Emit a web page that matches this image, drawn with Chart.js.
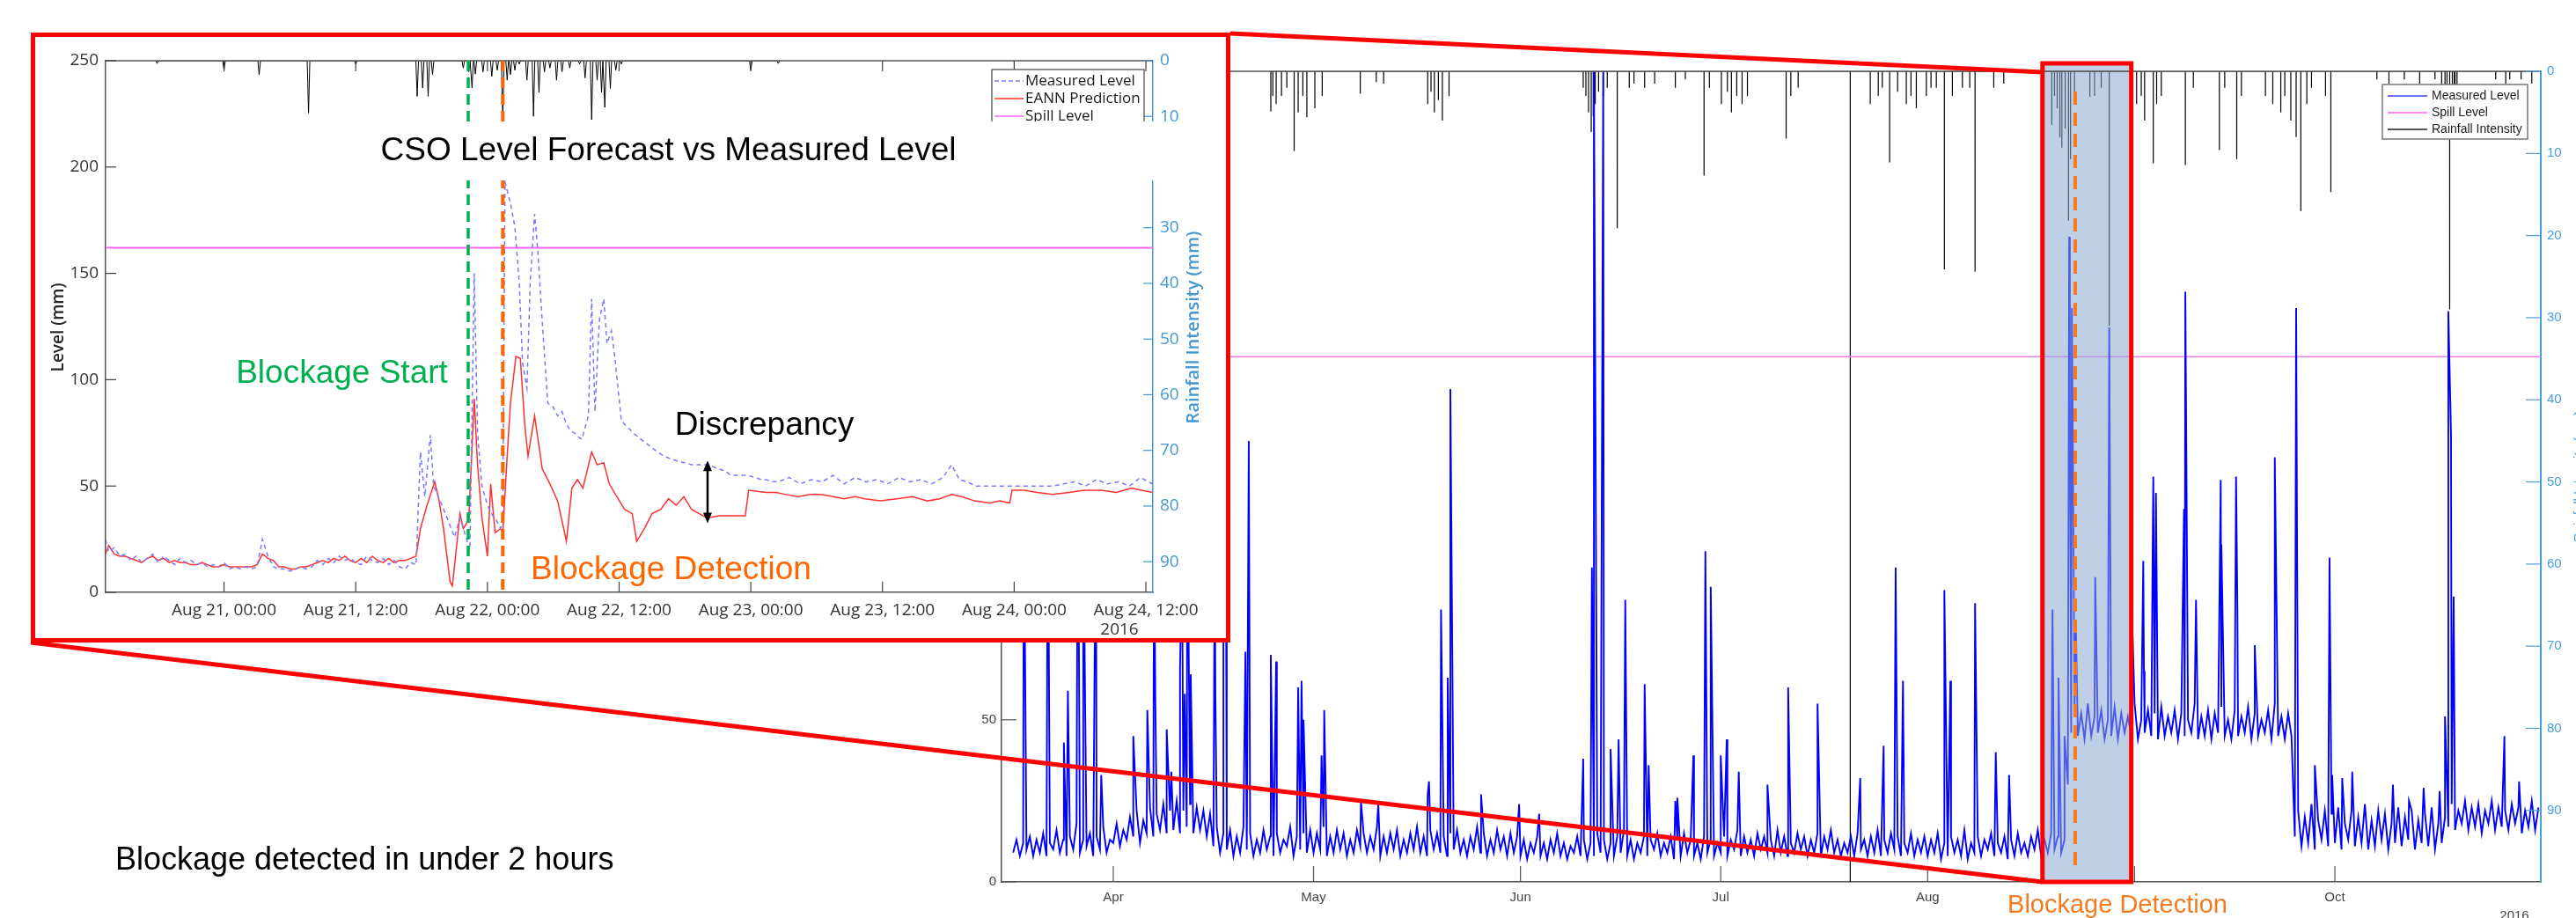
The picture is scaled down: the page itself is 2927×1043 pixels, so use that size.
<!DOCTYPE html>
<html>
<head>
<meta charset="utf-8">
<script src="https://cdn.jsdelivr.net/npm/chart.js@4.4.0/dist/chart.umd.min.js"></script>
<style>
html,body{margin:0;padding:0;background:#fff;overflow:hidden;width:2927px;height:1043px;}
#mainWrap{position:absolute;left:0;top:0;width:2927px;height:1043px;}
#insetBox{position:absolute;left:35px;top:37px;width:1353px;height:683px;border:5px solid #ff0000;background:#fff;}
canvas{display:block;}
</style>
</head>
<body>
<div id="mainWrap"><canvas id="mainCanvas" width="2927" height="1043" style="width:2927px;height:1043px"></canvas></div>
<div id="insetBox"><canvas id="insetCanvas" width="1353" height="683" style="width:1353px;height:683px"></canvas></div>
<script>
// ================= DATA (main chart: day of year 2016, Jan 1 = 1) =================
const monthStartDays = [92, 122, 153, 183, 214, 245, 275];
const monthLabels = ['Apr', 'May', 'Jun', 'Jul', 'Aug', 'Sep', 'Oct'];
const levelTickValues = [0, 50, 100, 150, 200, 250];
const rainTickValues = [0, 10, 20, 30, 40, 50, 60, 70, 80, 90];
const spillLevel = 162;

// measured level, one value every 12 h, start day given
const levelMar17to31 = [9,13,8,12,10,14,8,13,9,15,8,12,10,16,9,13,8,14,10,18,9,13,11,15,8,14,10,17,9,13];
const levelApr1to15 = [12,18,11,16,13,20,14,22,12,19,15,23,14,21,16,24,15,22,16,25,15,22,17,24,15,23,16,22,14,21];
const levelApr16to30 = [11,17,9,15,10,16,8,14,9,17,10,15,8,13,9,16,10,14,8,15,9,13,11,17,8,14,10,15,9,16];
const levelMay = [9,15,10,17,8,14,9,16,10,15,8,13,9,16,11,15,9,14,10,17,8,14,9,15,10,16,8,13,9,15,10,17,9,14,8,16,10,15,9,14,8,15,10,16,9,13,8,14,10,17,9,15,8,13,9,16,10,14,8,15,9,14];
const levelJun = [8,13,7,12,9,14,8,12,7,13,9,15,8,12,7,11,9,14,8,13,7,12,8,15,9,13,7,12,8,14,9,16,8,13,7,12,9,14,8,13,10,15,8,12,9,14,7,13,8,15,9,13,8,12,7,14,9,13,8,12];
const levelJul = [9,14,8,13,10,16,8,14,9,13,8,15,10,14,9,13,8,16,9,14,8,12,9,15,10,14,8,13,9,15,8,14,10,16,9,13,8,12,9,14,8,15,10,13,8,14,9,16,8,13,9,15,10,14,8,12,9,15,8,13,9,14];
const levelAug1to21 = [8,13,9,15,7,12,8,14,9,13,8,16,7,12,9,14,8,13,10,15,8,12,9,14,7,13,8,15,9,12,8,14,10,16,8,13,9,15,10,14,9,13];
const levelAug22toSep25 = [30,46,54,45,52,44,55,45,51,46,53,44,50,45,54,44,52,46,51,45,55,44,50,46,53,45,52,44,54,45,51,46,53,44,52,45,50,46,55,44,51,45,53,44,52,46,54,45,50,44,53,45,51,46,54,44,52,45,50,46,53,44,55,45,51,44,52,45];
const levelSep26toOct18 = [14,22,11,20,12,24,10,19,13,22,11,21,12,23,10,18,13,22,11,20,12,24,10,19,11,22,13,21,10,18,12,23,11,20,13,22,10,19,12,21,11,23,10,18,12,20];
const levelOct19to31 = [17,24,16,22,18,25,16,23,17,24,15,22,18,25,16,23,17,22,16,24,18,23,15,22,17,25,16,23];
const levelSegments = [
  {start: 77, values: levelMar17to31}, {start: 92, values: levelApr1to15}, {start: 107, values: levelApr16to30},
  {start: 122, values: levelMay}, {start: 153, values: levelJun}, {start: 183, values: levelJul},
  {start: 214, values: levelAug1to21}, {start: 235, values: levelAug22toSep25},
  {start: 269, values: levelSep26toOct18}, {start: 292, values: levelOct19to31}
];
// measured level spikes [day, mm]
const levelSpikes = [[78.6,120],[82.2,130],[84.6,43],[85.2,59],[86.7,140],[87.5,115],[89.4,125],[90.2,33],[95.0,45],[97.1,53],[98.1,110],[98.3,56],[100.0,47],[100.7,34],[102.0,66],[102.3,100],[102.7,58],[103.1,120],[103.6,64],[107.2,105],[107.3,57],[108.5,115],[108.9,90],[111.8,71],[112.3,136],[115.6,70],[116.4,68],[119.7,60],[120.2,62],[120.5,50],[123.2,39],[123.6,53],[129.1,25],[131.7,24],[139.1,27],[139.3,31],[141.1,84],[142.1,63],[142.5,152],[147.1,27],[152.8,24],[155.8,21],[162.4,38],[163.7,97],[164.0,250],[164.2,160],[165.4,250],[166.5,41],[167.7,44],[168.7,87],[171.6,61],[172.2,36],[176.2,25],[176.5,26],[178.9,39],[180.7,102],[181.5,91],[183.0,39],[183.9,44],[185.7,34],[190.0,30],[193.1,60],[197.5,55],[203.9,32],[207.4,42],[209.2,97],[210.3,62],[216.5,90],[217.4,62],[221.1,86],[224.2,40],[226.2,33],[232.7,84],[233.6,63],[234.5,45],[235.2,199],[235.3,150],[235.6,177],[235.8,120],[236.2,80],[239.1,94],[241.2,171],[244.7,76],[246.3,99],[246.4,65],[247.7,100],[247.8,125],[248.2,120],[252.4,115],[252.6,182],[254.2,87],[257.9,124],[258.0,104],[260.2,125],[260.4,84],[263.0,73],[266.0,131],[269.2,177],[272.0,36],[274.2,100],[274.6,33],[276.1,32],[277.6,34],[283.7,30],[286.1,25],[288.3,29],[290.7,28],[291.5,51],[292.0,176],[292.4,138],[292.8,88],[300.4,45],[302.6,31]];
// rainfall intensity [day, mm]
const mainRain = [[115.6,4.9],[115.9,3],[116.4,4],[117.2,3],[118.0,2],[119.1,9.7],[119.7,5],[120.4,3],[121.0,5.6],[122.2,4.5],[123.3,3],[129.0,2.7],[131.4,1.3],[132.5,1.5],[139.1,4],[139.6,2.5],[140.1,5],[140.7,3.5],[141.3,6],[142.3,3],[162.4,2],[162.8,3],[163.2,5],[163.6,7.4],[163.9,5.5],[164.2,4],[164.7,2.5],[165.4,3],[166.0,2],[167.5,19.1],[169.3,2],[170.0,1.5],[171.6,2],[173.1,1.5],[176.2,2],[177.7,1],[180.5,12.7],[181.3,2],[183.1,4],[184.0,2.5],[184.6,5],[185.4,3],[186.2,4],[187.0,3],[192.8,8.2],[193.5,3],[194.6,2],[202.4,99],[205.4,4],[206.6,3],[207.2,2],[208.3,11.1],[209.5,2.5],[210.8,4],[211.5,3],[212.3,4.5],[213.8,3],[214.5,2],[215.3,2],[216.5,24.1],[217.7,3],[219.2,2],[220.3,2],[221.1,24.4],[223.9,2],[225.4,1.5],[232.6,6.5],[233.0,3],[233.4,4.5],[233.8,8],[234.1,9.3],[234.6,7],[235.1,18.2],[235.4,10.7],[236.0,4],[238.3,3.1],[239.0,3],[240.0,2],[241.2,31],[244.5,3],[245.3,4],[246.0,3],[246.5,6],[247.8,11.2],[248.3,4],[249.0,3],[252.6,11.4],[253.8,2],[257.7,9.6],[258.5,2],[260.3,10.7],[261.0,3],[264.6,3],[265.7,4],[266.9,5],[267.5,3],[268.4,6],[269.2,8],[269.9,17],[270.8,4],[271.5,2],[273.6,3],[274.4,14.7],[281.3,1],[283.1,1.5],[285.4,1],[287.7,1.5],[290.0,1],[291.0,3.5],[291.5,3],[291.8,4],[292.2,29],[292.6,6],[292.9,3],[293.0,4],[293.3,2],[299.1,1],[300.6,1.5],[301.2,1],[302.9,1],[304.5,1.5]];
const blockageWindow = [231.2, 244.5];
const mainDetectionDay = 236.1;

// ================= DATA (inset: hours after Aug 21 2016 00:00) =================
const insetHourTicks = [0, 12, 24, 36, 48, 60, 72, 84];
const insetTickLabels = ['Aug 21, 00:00','Aug 21, 12:00','Aug 22, 00:00','Aug 22, 12:00','Aug 23, 00:00','Aug 23, 12:00','Aug 24, 00:00','Aug 24, 12:00'];
const insetMeasuredBase = [19,21,17,18,15,17,14,16,18,14,17,15,13,16,14,15,13,14,12,13,12,14,11,12,11,12,11,12,25,17,12,11,11,10,11,12,11,12,15,13,16,14,17,15,16,14,13,17,15,14,16,13,15,12,11,14,13]; // every 0.5 h from -10.5
const insetEannBase = [22,18,17,17,16,15,14,16,17,15,16,14,15,14,14,13,13,14,13,12,12,13,12,12,12,12,12,13,18,16,15,12,12,11,11,12,12,13,14,15,14,16,15,17,15,14,16,14,17,15,14,16,14,15,15,16,17]; // every 0.5 h from -10.5
const insetBaseStart = -10.5;
const insetMeasuredEvent = [[-10.8,25],[17.9,66],[18.3,45],[18.8,74],[19.1,50],[19.7,43],[20.4,34],[21.0,26],[21.5,35],[21.8,30],[22.4,20],[22.8,150],[23.1,75],[23.5,50],[24.0,41],[24.5,36],[24.8,34],[25.2,30],[25.4,35],[25.6,193],[26.1,183],[26.5,172],[26.9,146],[27.2,108],[27.6,96],[27.9,146],[28.3,178],[28.6,160],[29.0,127],[29.5,89],[30.0,87],[30.4,83],[30.8,85],[31.2,79],[31.6,76],[31.9,75],[32.3,73],[32.6,72],[33.2,83],[33.5,138],[33.8,85],[34.2,128],[34.6,138],[34.9,117],[35.3,123],[35.6,111],[36.2,81],[36.5,79],[36.9,77],[37.5,74],[38.0,72],[38.5,70],[39.0,68],[39.5,66],[40.1,64],[40.6,63],[41.2,62],[41.9,61],[42.6,60],[43.3,60],[44.0,60],[44.6,59],[45.1,58],[45.7,57],[46.2,55],[47.0,55],[47.7,55],[48.4,54],[49.0,53],[49.4,53],[50.0,52],[50.5,52],[51.5,54],[52.5,51],[53.5,53],[54.5,52],[55.5,55],[56.5,51],[57.5,54],[58.5,52],[59.5,53],[60.5,51],[61.5,54],[62.5,52],[63.5,53],[64.5,51],[65.5,54],[66.3,60],[67.0,53],[67.7,52],[68.5,50],[69.5,50],[70.5,50],[71.5,50],[72.5,50],[73.5,50],[74.5,50],[75.5,50],[76.5,51],[77.5,52],[78.5,50],[79.5,53],[80.5,51],[81.5,52],[82.5,50],[83.5,54],[84.6,51]];
const insetEannEvent = [[-10.8,18],[17.9,30],[18.5,41],[19.2,52],[19.6,43],[20.0,30],[20.6,5],[20.8,3],[21.1,17],[21.5,37],[21.8,30],[22.3,34],[22.8,91],[23.1,60],[23.5,35],[24.0,17],[24.3,51],[24.7,28],[25.2,30],[25.4,28],[25.8,64],[26.1,89],[26.6,111],[27.0,110],[27.4,79],[27.7,64],[28.3,83],[29.0,58],[29.7,51],[30.4,43],[31.2,24],[31.7,49],[32.2,53],[32.7,49],[33.5,66],[34.0,60],[34.6,61],[35.1,51],[35.8,45],[36.5,39],[37.2,37],[37.6,24],[38.3,30],[39.0,37],[39.8,39],[40.5,44],[41.2,41],[41.9,45],[42.6,39],[43.3,37],[44.0,35],[45.1,36],[46.2,36],[47.5,36],[47.8,48],[49.4,47],[50.3,47],[51.2,46],[52.3,45],[53.4,46],[54.4,46],[55.5,45],[56.5,44],[57.5,45],[58.4,44],[59.8,43],[61.3,44],[62.7,45],[64.1,43],[65.2,44],[66.3,46],[67.2,45],[68.4,43],[69.8,42],[70.7,43],[71.6,42],[71.8,48],[72.9,48],[74.1,47],[75.5,46],[77.0,47],[78.4,48],[79.9,48],[81.3,47],[82.7,49],[83.6,48],[84.6,47]];
const insetRain = [[-6.1,0.5],[0.0,1.7],[3.2,2.5],[7.7,9.4],[12.0,0.6],[17.6,6.4],[18.1,4.9],[18.6,6.4],[19.0,2.5],[21.8,1.3],[22.3,2],[22.6,4.9],[22.9,2.4],[23.6,2],[24.4,2.8],[24.9,1.7],[25.4,10.7],[25.8,3.5],[26.1,2.5],[26.5,1.7],[26.9,0.6],[27.6,3.5],[28.2,10],[28.7,5.7],[29.2,2],[29.7,1.3],[30.3,3.5],[30.8,2],[31.5,1.3],[32.4,0.6],[32.9,3.1],[33.5,10.6],[34.0,3.5],[34.4,5.7],[34.7,8.4],[35.2,5],[35.7,1.7],[36.2,0.6],[48.0,1.7],[50.5,0.5]];
const blockageStartHour = 22.25;
const blockageDetectHour = 25.4;
const discrepancyHour = 44.06, discrepancyTop = 62, discrepancyBottom = 32.5;

// ================= build series =================
function levelSeries(){
  const pts = [];
  levelSegments.forEach(s => s.values.forEach((v, i) => pts.push({x: s.start + i * 0.5, y: v})));
  levelSpikes.forEach(([d, v]) => pts.push({x: d, y: v}));
  return pts.sort((a, b) => a.x - b.x);
}
function stemSeries(list, hw){
  const pts = [];
  list.slice().sort((a,b)=>a[0]-b[0]).forEach(([d, v]) => { pts.push({x: d - hw, y: 0}, {x: d, y: v}, {x: d + hw, y: 0}); });
  return pts;
}
function insetSeries(base, event){
  const pts = base.map((v, i) => ({x: insetBaseStart + i * 0.5, y: v}));
  event.forEach(([t, v]) => pts.push({x: t, y: v}));
  return pts.sort((a, b) => a.x - b.x);
}

const mainBlue = '#4a9ed8';
const insetBlue = '#4597d0';
const mainX = {min: 75.26, max: 305.85};
const insetX = {min: -10.79, max: 84.64};

function line(ctx, x1, y1, x2, y2){ ctx.beginPath(); ctx.moveTo(x1, y1); ctx.lineTo(x2, y2); ctx.stroke(); }

const mainDecor = {
  id: 'mainDecor',
  afterDatasetsDraw(chart){
    const {ctx, chartArea: a, scales: {x}} = chart;
    const bx0 = x.getPixelForValue(blockageWindow[0]), bx1 = x.getPixelForValue(blockageWindow[1]);
    ctx.save();
    ctx.fillStyle = 'rgba(138,168,210,0.55)';
    ctx.fillRect(bx0, a.top - 9, bx1 - bx0, a.bottom - a.top + 9);
    ctx.restore();
  },
  afterDraw(chart){
    const {ctx, chartArea: a, scales: {x, y, y2}} = chart;
    ctx.save();
    ctx.strokeStyle = '#555'; ctx.lineWidth = 1.5;
    line(ctx, a.left, a.top, a.right, a.top);
    ctx.lineWidth = 1.2;
    monthStartDays.forEach(d => { const px = x.getPixelForValue(d); line(ctx, px, a.bottom, px, a.bottom - 18); });
    levelTickValues.forEach(v => { const py = y.getPixelForValue(v); line(ctx, a.left, py, a.left + 17, py); });
    ctx.strokeStyle = mainBlue;
    rainTickValues.forEach(v => { const py = y2.getPixelForValue(v); line(ctx, a.right - 17, py, a.right, py); });
    const dx = x.getPixelForValue(mainDetectionDay);
    ctx.strokeStyle = '#f47b20'; ctx.lineWidth = 4; ctx.setLineDash([15, 9]);
    line(ctx, dx, a.top + 23, dx, a.bottom - 12);
    ctx.setLineDash([]);
    const bx0 = x.getPixelForValue(blockageWindow[0]), bx1 = x.getPixelForValue(blockageWindow[1]);
    ctx.strokeStyle = '#ff0000'; ctx.lineWidth = 5;
    ctx.strokeRect(bx0, a.top - 9, bx1 - bx0, a.bottom - a.top + 9);
    line(ctx, 1398, 38, bx0, a.top + 1);
    line(ctx, 35, 730, bx0, a.bottom);
    const lx = 2707, ly = 96;
    ctx.fillStyle = '#fff'; ctx.fillRect(lx, ly, 165, 62);
    ctx.strokeStyle = '#777'; ctx.lineWidth = 1.5; ctx.strokeRect(lx, ly, 165, 62);
    const entries = [['Measured Level', '#7070ff'], ['Spill Level', '#ff88ff'], ['Rainfall Intensity', '#555']];
    ctx.font = '14px "Liberation Sans"'; ctx.textBaseline = 'middle'; ctx.textAlign = 'left';
    entries.forEach(([t, c], i) => {
      const yy = ly + 13 + i * 19;
      ctx.strokeStyle = c; ctx.lineWidth = 2; line(ctx, lx + 6, yy, lx + 51, yy);
      ctx.fillStyle = '#222'; ctx.fillText(t, lx + 56, yy);
    });
    ctx.font = '29px "Liberation Sans"'; ctx.textAlign = 'center';
    const tw = ctx.measureText('Blockage Detection').width;
    const tcx = 2406;
    ctx.fillStyle = '#fff'; ctx.fillRect(tcx - tw / 2 - 4, 1006, tw + 8, 37);
    ctx.fillStyle = '#f47b20'; ctx.fillText('Blockage Detection', tcx, 1029);
    ctx.font = '36px "Liberation Sans"'; ctx.textAlign = 'left'; ctx.fillStyle = '#000';
    ctx.fillText('Blockage detected in under 2 hours', 131, 978);
    ctx.font = '15px "Liberation Sans"'; ctx.textAlign = 'center'; ctx.fillStyle = '#444';
    ctx.fillText('2016', 2857, 1041);
    ctx.save(); ctx.translate(2931, (a.top + a.bottom) / 2); ctx.rotate(-Math.PI / 2);
    ctx.fillStyle = mainBlue; ctx.fillText('Rainfall Intensity (mm)', 0, 0); ctx.restore();
    ctx.restore();
  }
};

const insetDecor = {
  id: 'insetDecor',
  afterDraw(chart){
    const {ctx, chartArea: a, scales: {x, y, y2}} = chart;
    ctx.save();
    ctx.strokeStyle = '#555'; ctx.lineWidth = 1.5;
    line(ctx, a.left, a.top, a.right, a.top);
    ctx.lineWidth = 1.2; ctx.strokeStyle = '#404040';
    insetHourTicks.forEach(h => { const px = x.getPixelForValue(h); line(ctx, px, a.bottom, px, a.bottom - 12); line(ctx, px, a.top, px, a.top + 12); });
    levelTickValues.forEach(v => { const py = y.getPixelForValue(v); line(ctx, a.left, py, a.left + 12, py); });
    ctx.strokeStyle = insetBlue;
    rainTickValues.forEach(v => { const py = y2.getPixelForValue(v); line(ctx, a.right - 11, py, a.right, py); });
    const lx = 1087, ly = 37;
    ctx.fillStyle = '#fff'; ctx.fillRect(lx, ly, 173, 75);
    ctx.strokeStyle = '#555'; ctx.lineWidth = 1.3; ctx.strokeRect(lx, ly, 173, 75);
    const entries = [['Measured Level', '#8080ff', [5, 3]], ['EANN Prediction', '#ff3030', []], ['Spill Level', '#ff66ff', []]];
    ctx.font = '17px "Open Sans"'; ctx.textBaseline = 'middle'; ctx.textAlign = 'left';
    entries.forEach(([t, c, dsh], i) => {
      const yy = ly + 13 + i * 20;
      ctx.strokeStyle = c; ctx.lineWidth = 1.5; ctx.setLineDash(dsh); line(ctx, lx + 3, yy, lx + 36, yy); ctx.setLineDash([]);
      ctx.fillStyle = '#1a1a1a'; ctx.fillText(t, lx + 38, yy);
    });
    const gx = x.getPixelForValue(blockageStartHour), ox = x.getPixelForValue(blockageDetectHour);
    ctx.setLineDash([12, 7]);
    ctx.strokeStyle = '#00b050'; ctx.lineWidth = 3.5; line(ctx, gx, a.top, gx, a.bottom);
    ctx.strokeStyle = '#ff6600'; ctx.lineWidth = 4; line(ctx, ox, a.top, ox, a.bottom);
    ctx.setLineDash([]);
    ctx.fillStyle = '#fff'; ctx.fillRect(94, 96, 1211, 67);
    ctx.font = '37px "Liberation Sans"'; ctx.textAlign = 'center'; ctx.fillStyle = '#000';
    ctx.fillText('CSO Level Forecast vs Measured Level', 719.5, 130);
    ctx.fillStyle = '#00b050'; ctx.fillText('Blockage Start', 348.5, 383);
    ctx.fillStyle = '#000'; ctx.fillText('Discrepancy', 828.5, 442);
    ctx.fillStyle = '#ff6600'; ctx.fillText('Blockage Detection', 722.5, 606);
    const ax = x.getPixelForValue(discrepancyHour), ay1 = y.getPixelForValue(discrepancyTop), ay2 = y.getPixelForValue(discrepancyBottom);
    ctx.strokeStyle = '#000'; ctx.lineWidth = 2.5; line(ctx, ax, ay1 + 8, ax, ay2 - 8);
    ctx.fillStyle = '#000';
    ctx.beginPath(); ctx.moveTo(ax, ay1); ctx.lineTo(ax - 5, ay1 + 12); ctx.lineTo(ax + 5, ay1 + 12); ctx.closePath(); ctx.fill();
    ctx.beginPath(); ctx.moveTo(ax, ay2); ctx.lineTo(ax - 5, ay2 - 12); ctx.lineTo(ax + 5, ay2 - 12); ctx.closePath(); ctx.fill();
    ctx.save(); ctx.translate(27, 330); ctx.rotate(-Math.PI / 2);
    ctx.font = '600 19px "Open Sans"'; ctx.fillStyle = '#262626'; ctx.fillText('Level (mm)', 0, 0); ctx.restore();
    ctx.save(); ctx.translate(1316, 330); ctx.rotate(-Math.PI / 2);
    ctx.font = '600 20px "Open Sans"'; ctx.fillStyle = insetBlue; ctx.fillText('Rainfall Intensity (mm)', 0, 0); ctx.restore();
    ctx.font = '19px "Open Sans"'; ctx.fillStyle = '#333'; ctx.fillText('2016', 1232, 674);
    ctx.restore();
  }
};

function build(){
  new Chart(document.getElementById('mainCanvas'), {
    type: 'line',
    data: {datasets: [
      {label: 'Measured Level', data: levelSeries(), borderColor: '#0000ff', borderWidth: 1.9, yAxisID: 'y'},
      {label: 'Spill Level', data: [{x: mainX.min, y: spillLevel}, {x: mainX.max, y: spillLevel}], borderColor: '#ee80ee', borderWidth: 1.6, yAxisID: 'y'},
      {label: 'Rainfall Intensity', data: stemSeries(mainRain, 0), borderColor: '#000', borderWidth: 1.2, yAxisID: 'y2'}
    ]},
    options: {
      responsive: false, animation: false, devicePixelRatio: 1,
      layout: {padding: {top: 81, left: 0, right: 0, bottom: 0}},
      plugins: {legend: {display: false}, tooltip: {enabled: false}},
      elements: {point: {radius: 0}, line: {tension: 0}},
      scales: {
        x: {type: 'linear', min: mainX.min, max: mainX.max,
          afterFit(s){ s.height = 41; },
          afterBuildTicks(s){ s.ticks = monthStartDays.map(v => ({value: v})); },
          ticks: {callback: (v, i) => monthLabels[i], padding: 9, autoSkip: false, maxRotation: 0, font: {family: '"Liberation Sans"', size: 15}, color: '#444'},
          grid: {display: false, drawTicks: false}, border: {display: true, color: '#555', width: 1.5}},
        y: {position: 'left', min: 0, max: 250,
          afterFit(s){ s.width = 1138; },
          afterBuildTicks(s){ s.ticks = levelTickValues.map(v => ({value: v})); },
          ticks: {padding: 6, font: {family: '"Liberation Sans"', size: 15}, color: '#444'},
          grid: {display: false, drawTicks: false}, border: {display: true, color: '#555', width: 1.5}},
        y2: {position: 'right', min: 0, max: 98.7, reverse: true,
          afterFit(s){ s.width = 40; },
          afterBuildTicks(s){ s.ticks = rainTickValues.map(v => ({value: v})); },
          ticks: {padding: 7, font: {family: '"Liberation Sans"', size: 15}, color: mainBlue},
          grid: {display: false, drawTicks: false}, border: {display: true, color: mainBlue, width: 2}}
      }
    },
    plugins: [mainDecor]
  });

  new Chart(document.getElementById('insetCanvas'), {
    type: 'line',
    data: {datasets: [
      {label: 'Measured Level', data: insetSeries(insetMeasuredBase, insetMeasuredEvent), borderColor: '#7878ff', borderWidth: 1.5, borderDash: [5, 4], yAxisID: 'y'},
      {label: 'EANN Prediction', data: insetSeries(insetEannBase, insetEannEvent), borderColor: '#ff3030', borderWidth: 1.5, yAxisID: 'y'},
      {label: 'Spill Level', data: [{x: insetX.min, y: spillLevel}, {x: insetX.max, y: spillLevel}], borderColor: '#ff66ff', borderWidth: 2, yAxisID: 'y'},
      {label: 'Rainfall', data: stemSeries(insetRain, 0.12), borderColor: '#000', borderWidth: 1, yAxisID: 'y2'}
    ]},
    options: {
      responsive: false, animation: false, devicePixelRatio: 1,
      layout: {padding: {top: 27, left: 0, right: 0, bottom: 0}},
      plugins: {legend: {display: false}, tooltip: {enabled: false}},
      elements: {point: {radius: 0}, line: {tension: 0}},
      scales: {
        x: {type: 'linear', min: insetX.min, max: insetX.max,
          afterFit(s){ s.height = 52; },
          afterBuildTicks(s){ s.ticks = insetHourTicks.map(v => ({value: v})); },
          ticks: {callback: (v, i) => insetTickLabels[i], padding: 9, autoSkip: false, maxRotation: 0, font: {family: '"Open Sans"', size: 19}, color: '#333'},
          grid: {display: false, drawTicks: false}, border: {display: true, color: '#555', width: 1.5}},
        y: {position: 'left', min: 0, max: 250,
          afterFit(s){ s.width = 80; },
          afterBuildTicks(s){ s.ticks = levelTickValues.map(v => ({value: v})); },
          ticks: {padding: 8, font: {family: '"Open Sans"', size: 19}, color: '#333'},
          grid: {display: false, drawTicks: false}, border: {display: true, color: '#555', width: 1.5}},
        y2: {position: 'right', min: 0, max: 95.5, reverse: true,
          afterFit(s){ s.width = 83; },
          afterBuildTicks(s){ s.ticks = rainTickValues.map(v => ({value: v})); },
          ticks: {padding: 8, font: {family: '"Open Sans"', size: 19}, color: insetBlue},
          grid: {display: false, drawTicks: false}, border: {display: true, color: insetBlue, width: 1.5}}
      }
    },
    plugins: [insetDecor]
  });
}

let built = false;
function go(){ if (built) return; built = true; build(); }
Promise.all([
  document.fonts.load('19px "Open Sans"'),
  document.fonts.load('600 19px "Open Sans"'),
  document.fonts.load('15px "Liberation Sans"')
]).then(go, go);
setTimeout(go, 1200);
</script>
</body>
</html>
